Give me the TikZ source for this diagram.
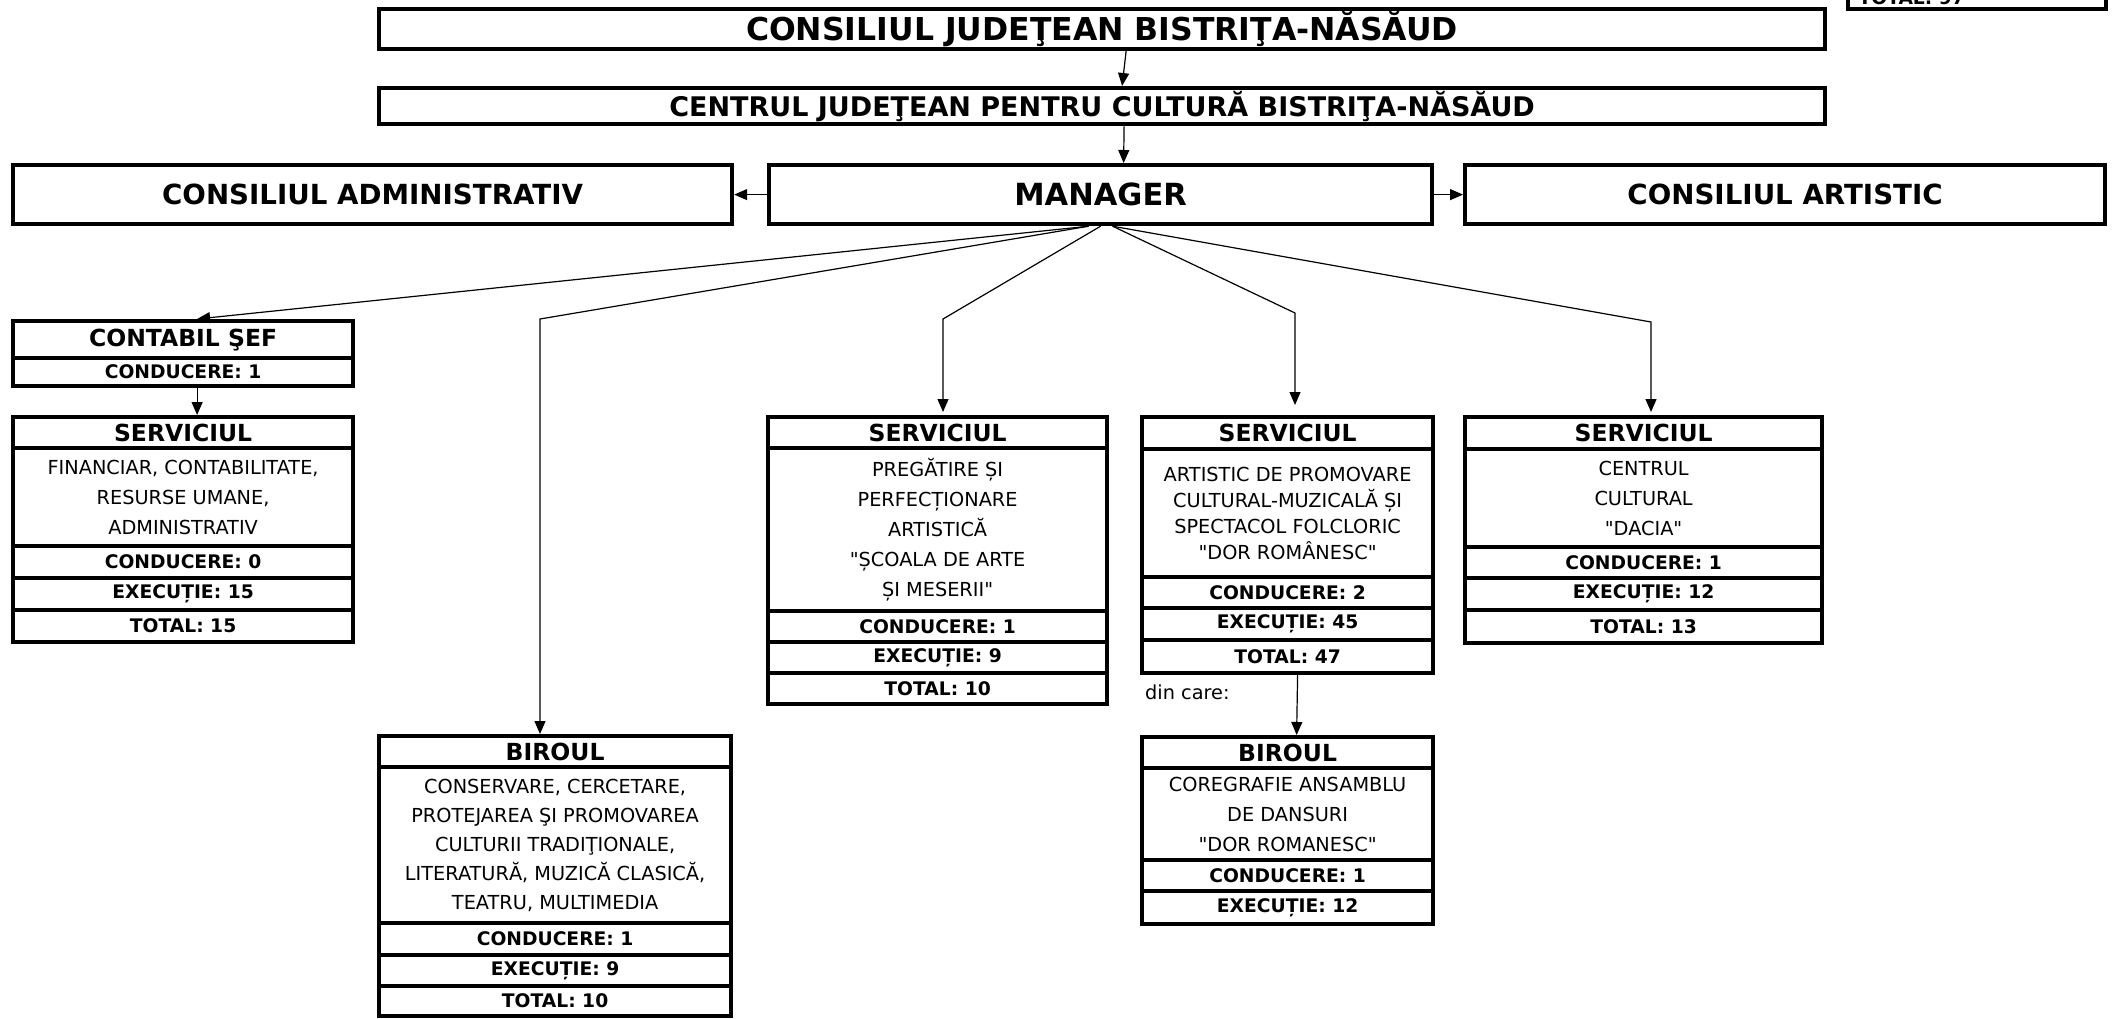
\documentclass[tikz,border=0pt]{standalone}
\usepackage{fontspec}
\setmainfont{DejaVu Sans}[Ligatures=TeXOff]
\usetikzlibrary{arrows.meta}
\newcommand\dq{"}
\begin{document}
\begin{tikzpicture}[x=1pt,y=-1pt,
 bx/.style={draw, line width=4.2pt, inner sep=0pt, anchor=north west, align=center},
 conn/.style={line width=1.2pt},
 arr/.style={conn, -{Triangle[length=13pt,width=11pt]}},
 ttop/.style={font=\fontsize{31.5}{34}\selectfont\bfseries},
 tcen/.style={font=\fontsize{27}{30}\selectfont\bfseries},
 tman/.style={font=\fontsize{30.5}{34}\selectfont\bfseries},
 tcons/.style={font=\fontsize{27.7}{31}\selectfont\bfseries},
 thead/.style={font=\fontsize{23.5}{27}\selectfont\bfseries},
 trow/.style={font=\fontsize{18.7}{22}\selectfont\bfseries},
 tbody/.style={font=\fontsize{19.3}{30}\selectfont},
 tbodyb/.style={font=\fontsize{19.3}{26}\selectfont},
 tbodyc/.style={font=\fontsize{19.3}{29}\selectfont},
]
\useasboundingbox (0,0) rectangle (2114,1018);
\fill[white] (0,0) rectangle (2114,1018);

% top-right cut box
\node[bx, minimum width=258pt, minimum height=46pt] (tr) at (1846,-39) {};
\node[trow, anchor=base west] (trt) at (1855,4) {TOTAL: 97};

% top titles
\node[bx, ttop, minimum width=1446pt, minimum height=40pt] (tj) at (377,7) {CONSILIUL JUDEŢEAN BISTRIŢA-NĂSĂUD};
\node[bx, tcen, minimum width=1446pt, minimum height=36pt] (cj) at (377,86) {CENTRUL JUDEŢEAN PENTRU CULTURĂ BISTRIŢA-NĂSĂUD};

% third level
\node[bx, tcons, minimum width=719pt, minimum height=59pt] (ca) at (11,163) {CONSILIUL ADMINISTRATIV};
\node[bx, tman, minimum width=663pt, minimum height=59pt] (mg) at (767,163) {MANAGER};
\node[bx, tcons, minimum width=640pt, minimum height=59pt] (car) at (1463,163) {CONSILIUL ARTISTIC};

% contabil sef
\node[bx, thead, minimum width=340pt, minimum height=37pt] (cs1) at (11,319) {CONTABIL ŞEF};
\node[bx, trow, minimum width=340pt, minimum height=28pt] (cs2) at (11,356) {CONDUCERE: 1};

% serviciul financiar
\node[bx, thead, minimum width=340pt, minimum height=31pt] (sf1) at (11,415) {SERVICIUL};
\node[bx, tbody, minimum width=340pt, minimum height=98pt] (sf2) at (11,446) {FINANCIAR, CONTABILITATE,\\RESURSE UMANE,\\ADMINISTRATIV};
\node[bx, trow, minimum width=340pt, minimum height=32pt] (sf3) at (11,544) {CONDUCERE: 0};
\node[bx, trow, minimum width=340pt, minimum height=32pt] (sf4) at (11,576) {EXECUȚIE: 15};
\node[bx, trow, minimum width=340pt, minimum height=32pt] (sf5) at (11,608) {TOTAL: 15};

% biroul conservare
\node[bx, thead, minimum width=352pt, minimum height=31pt] (bc1) at (377,734) {BIROUL};
\node[bx, tbodyc, minimum width=352pt, minimum height=156pt] (bc2) at (377,765) {CONSERVARE, CERCETARE,\\PROTEJAREA ŞI PROMOVAREA\\CULTURII TRADIŢIONALE,\\LITERATURĂ, MUZICĂ CLASICĂ,\\TEATRU, MULTIMEDIA};
\node[bx, trow, minimum width=352pt, minimum height=32pt] (bc3) at (377,921) {CONDUCERE: 1};
\node[bx, trow, minimum width=352pt, minimum height=31pt] (bc4) at (377,953) {EXECUȚIE: 9};
\node[bx, trow, minimum width=352pt, minimum height=30pt] (bc5) at (377,984) {TOTAL: 10};

% serviciul pregatire
\node[bx, thead, minimum width=339pt, minimum height=31pt] (sp1) at (766,415) {SERVICIUL};
\node[bx, tbody, minimum width=339pt, minimum height=163pt] (sp2) at (766,446) {PREGĂTIRE ȘI\\PERFECȚIONARE\\ARTISTICĂ\\\dq ȘCOALA DE ARTE\\ȘI MESERII\dq};
\node[bx, trow, minimum width=339pt, minimum height=31pt] (sp3) at (766,609) {CONDUCERE: 1};
\node[bx, trow, minimum width=339pt, minimum height=31pt] (sp4) at (766,640) {EXECUȚIE: 9};
\node[bx, trow, minimum width=339pt, minimum height=31pt] (sp5) at (766,671) {TOTAL: 10};

% serviciul artistic
\node[bx, thead, minimum width=291pt, minimum height=32pt] (sa1) at (1140,415) {SERVICIUL};
\node[bx, tbodyb, minimum width=291pt, minimum height=128pt] (sa2) at (1140,447) {ARTISTIC DE PROMOVARE\\CULTURAL-MUZICALĂ ȘI\\SPECTACOL FOLCLORIC\\\dq DOR ROMÂNESC\dq};
\node[bx, trow, minimum width=291pt, minimum height=31pt] (sa3) at (1140,575) {CONDUCERE: 2};
\node[bx, trow, minimum width=291pt, minimum height=32pt] (sa4) at (1140,606) {EXECUȚIE: 45};
\node[bx, trow, minimum width=291pt, minimum height=33pt] (sa5) at (1140,638) {TOTAL: 47};
\node[tbody, anchor=west, inner sep=0pt] (dc) at (1145,692) {din care:};

% biroul coregrafie
\node[bx, thead, minimum width=291pt, minimum height=31pt] (br1) at (1140,735) {BIROUL};
\node[bx, tbody, minimum width=291pt, minimum height=92pt] (br2) at (1140,766) {COREGRAFIE ANSAMBLU\\DE DANSURI\\\dq DOR ROMANESC\dq};
\node[bx, trow, minimum width=291pt, minimum height=31pt] (br3) at (1140,858) {CONDUCERE: 1};
\node[bx, trow, minimum width=291pt, minimum height=33pt] (br4) at (1140,889) {EXECUȚIE: 12};

% serviciul dacia
\node[bx, thead, minimum width=357pt, minimum height=32pt] (sd1) at (1463,415) {SERVICIUL};
\node[bx, tbody, minimum width=357pt, minimum height=98pt] (sd2) at (1463,447) {CENTRUL\\CULTURAL\\\dq DACIA\dq};
\node[bx, trow, minimum width=357pt, minimum height=31pt] (sd3) at (1463,545) {CONDUCERE: 1};
\node[bx, trow, minimum width=357pt, minimum height=32pt] (sd4) at (1463,576) {EXECUȚIE: 12};
\node[bx, trow, minimum width=357pt, minimum height=33pt] (sd5) at (1463,608) {TOTAL: 13};

% connectors
\draw[arr] ([xshift=24pt]tj.south) -- ([xshift=20pt]cj.north);
\draw[arr] ([xshift=22pt]cj.south) -- ([xshift=23pt]mg.north);
\draw[arr] (mg.west) -- (ca.east);
\draw[arr] (mg.east) -- (car.west);

\coordinate (bBC) at (540,319);
\coordinate (bSP) at (943,319);
\coordinate (bSA) at (1295,313);
\coordinate (bSD) at (1651,322);

\draw[arr] ([xshift=-12pt]mg.south) -- ([xshift=14pt]cs1.north);
\draw[arr] ([xshift=-12pt]mg.south) -- (bBC) -- (bBC |- bc1.north);
\draw[arr] ([xshift=0pt]mg.south) -- (bSP) -- ([yshift=3pt]bSP |- sp1.north);
\draw[arr] ([xshift=12pt]mg.south) -- (bSA) -- ([yshift=10pt]bSA |- sa1.north);
\draw[arr] ([xshift=12pt]mg.south) -- (bSD) -- ([yshift=3pt]bSD |- sd1.north);

\draw[arr] ([xshift=14pt]cs2.south) -- ([xshift=14pt]sf1.north);
\draw[arr] ([xshift=10pt]sa5.south) -- ([xshift=9pt]br1.north);
\end{tikzpicture}
\end{document}
